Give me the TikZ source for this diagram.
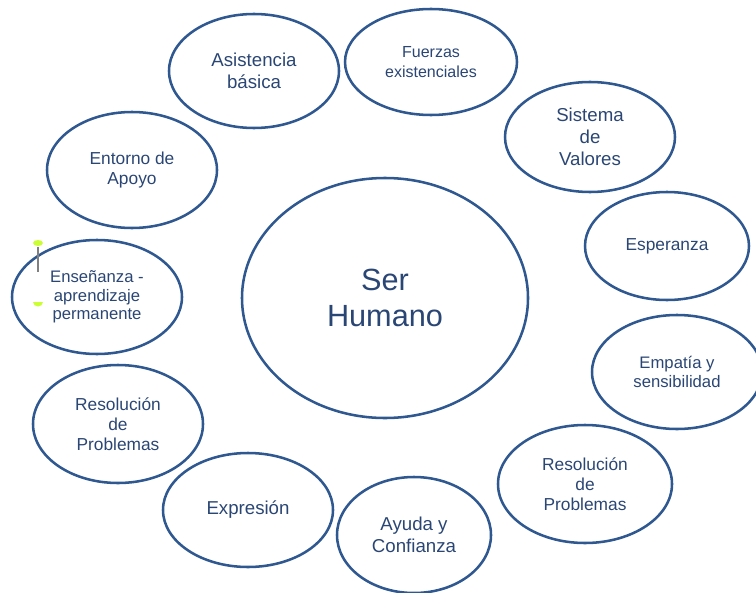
\documentclass[tikz,border=0pt]{standalone}
\usepackage{fontspec}
\setmainfont{Liberation Sans}
\usetikzlibrary{shapes.geometric}

\definecolor{ringblue}{RGB}{47,88,145}
\definecolor{textblue}{RGB}{42,70,116}
\definecolor{handlegreen}{RGB}{204,255,51}

\tikzset{
  bubble/.style={ellipse, draw=ringblue, line width=1.9pt, inner sep=0pt,
    align=center, text=textblue, font=\fontsize{13}{15}\selectfont},
  bigfont/.style={font=\fontsize{14}{16.5}\selectfont},
  smallfont/.style={font=\fontsize{12}{14.5}\selectfont}
}

\begin{document}
\begin{tikzpicture}[x=0.75pt, y=-0.75pt]
          \useasboundingbox (0,0) rectangle (756,592);
          \clip (0,0) rectangle (756,592);

          % centre
          \node[bubble, minimum width=214.5pt, minimum height=180pt,
                font=\fontsize{23}{27.5}\selectfont] (ser) at (385,298) {Ser\\Humano};

          % ring of bubbles, clockwise from the top
          \node[bubble, bigfont, minimum width=127.5pt, minimum height=85.5pt] (asis) at (254,71) {Asistencia\\b\'asica};
          \node[bubble, smallfont, minimum width=129pt, minimum height=79.5pt] (fuer) at (431,62) {\\[-6pt]Fuerzas\\existenciales};
          \node[bubble, bigfont, minimum width=127.5pt, minimum height=82.5pt] (sist) at (590,137) {Sistema\\de\\Valores};
          \node[bubble, minimum width=123pt, minimum height=81pt] (espe) at (667,246) {Esperanza};
          \node[bubble, font=\fontsize{12.5}{14.5}\selectfont, minimum width=127.5pt, minimum height=85.5pt] (empa) at (677,372) {Empat\'ia y\\sensibilidad};
          \node[bubble, minimum width=130.5pt, minimum height=88.5pt] (resr) at (585,484) {Resoluci\'on\\de\\Problemas};
          \node[bubble, bigfont, minimum width=115.5pt, minimum height=87pt] (ayud) at (414,535) {Ayuda y\\Confianza};
          \node[bubble, bigfont, minimum width=127.5pt, minimum height=85.5pt] (expr) at (248,510) {Expresi\'on};
          \node[bubble, minimum width=127.5pt, minimum height=88.5pt] (resl) at (118,424) {Resoluci\'on\\de\\Problemas};
          \node[bubble, font=\fontsize{12.5}{13.8}\selectfont, minimum width=127.5pt, minimum height=85.5pt] (ense) at (97,297) {Ense\~nanza -\\aprendizaje\\permanente};
          \node[bubble, minimum width=127.5pt, minimum height=87pt] (ento) at (132,170) {Entorno de\\Apoyo};

          % selection handles left on the picture
          \draw[gray, line width=1pt] (38,247) -- (38,272);
          \fill[handlegreen] (38,243) ellipse (5 and 3);
          \fill[handlegreen] (33,302) arc (180:0:5 and 4.5) -- cycle;
    \end{tikzpicture}
\end{document}
